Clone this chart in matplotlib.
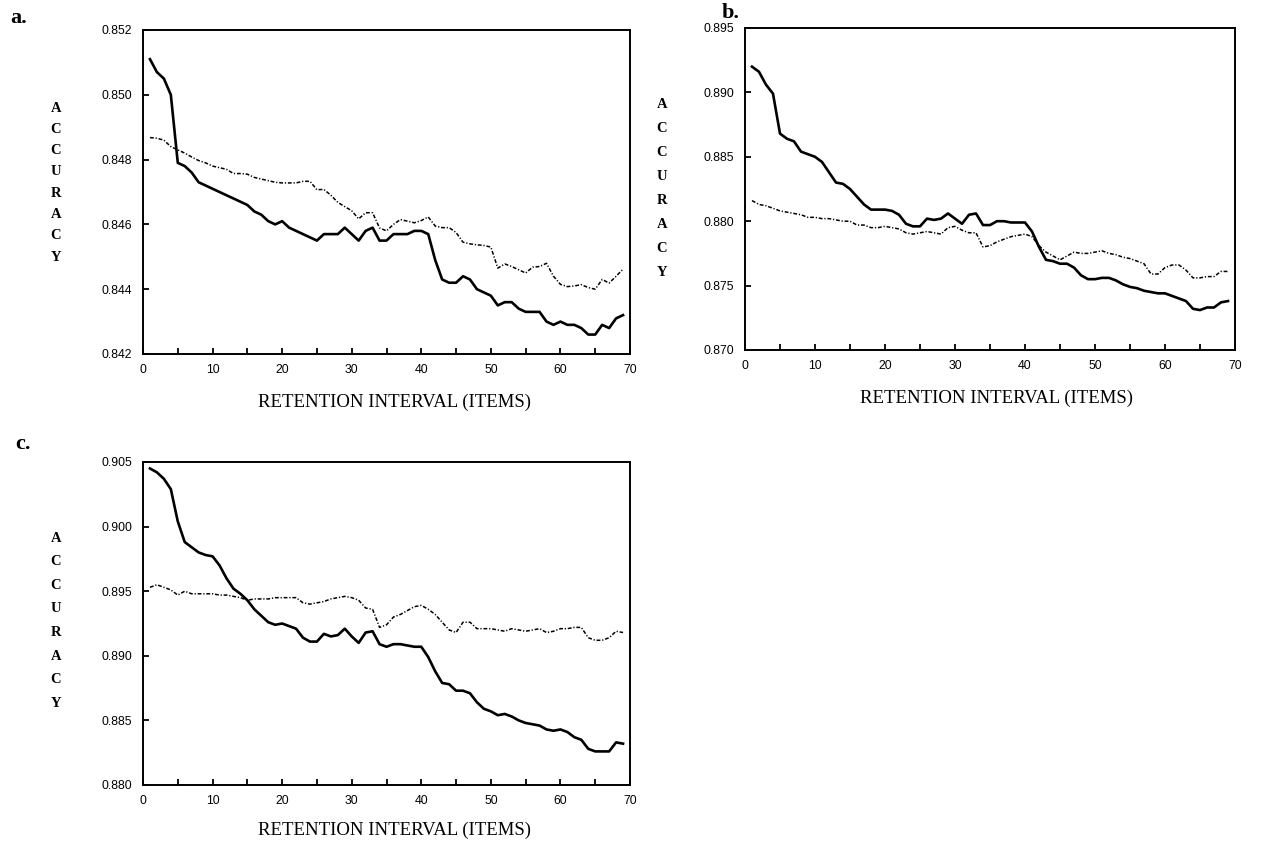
import matplotlib
matplotlib.use("Agg")
import matplotlib.pyplot as plt
from matplotlib.ticker import MultipleLocator, FixedLocator, FuncFormatter

# retention interval (items)
x = list(range(1, 70))

# panel a
a_solid = [0.8511, 0.8507, 0.8505, 0.8500, 0.8479, 0.8478, 0.8476, 0.8473, 0.8472, 0.8471,
           0.8470, 0.8469, 0.8468, 0.8467, 0.8466, 0.8464, 0.8463, 0.8461, 0.8460, 0.8461,
           0.8459, 0.8458, 0.8457, 0.8456, 0.8455, 0.8457, 0.8457, 0.8457, 0.8459, 0.8457,
           0.8455, 0.8458, 0.8459, 0.8455, 0.8455, 0.8457, 0.8457, 0.8457, 0.8458, 0.8458,
           0.8457, 0.8449, 0.8443, 0.8442, 0.8442, 0.8444, 0.8443, 0.8440, 0.8439, 0.8438,
           0.8435, 0.8436, 0.8436, 0.8434, 0.8433, 0.8433, 0.8433, 0.8430, 0.8429, 0.8430,
           0.8429, 0.8429, 0.8428, 0.8426, 0.8426, 0.8429, 0.8428, 0.8431, 0.8432]
a_dotted = [0.84868, 0.84866, 0.84860, 0.84840, 0.84830, 0.84820, 0.84808, 0.84797, 0.84790, 0.84780,
            0.84775, 0.84770, 0.84757, 0.84757, 0.84755, 0.84745, 0.84740, 0.84735, 0.84730, 0.84728,
            0.84728, 0.84728, 0.84733, 0.84733, 0.84707, 0.84708, 0.84690, 0.84668, 0.84655, 0.84642,
            0.84617, 0.84636, 0.84636, 0.84589, 0.84580, 0.84600, 0.84615, 0.84610, 0.84605, 0.84612,
            0.84623, 0.84595, 0.84590, 0.84590, 0.84575, 0.84545, 0.84540, 0.84537, 0.84535, 0.84530,
            0.84465, 0.84478, 0.84470, 0.84460, 0.84450, 0.84468, 0.84470, 0.84480, 0.84440, 0.84415,
            0.84408, 0.84410, 0.84414, 0.84405, 0.84400, 0.84430, 0.84419, 0.84440, 0.84462]

# panel b
b_solid = [0.8920, 0.8916, 0.8906, 0.8899, 0.8868, 0.8864, 0.8862, 0.8854, 0.8852, 0.8850,
           0.8846, 0.8838, 0.8830, 0.8829, 0.8825, 0.8819, 0.8813, 0.8809, 0.8809, 0.8809,
           0.8808, 0.8805, 0.8798, 0.8796, 0.8796, 0.8802, 0.8801, 0.8802, 0.8806, 0.8802,
           0.8798, 0.8805, 0.8806, 0.8797, 0.8797, 0.8800, 0.8800, 0.8799, 0.8799, 0.8799,
           0.8792, 0.8780, 0.8770, 0.8769, 0.8767, 0.8767, 0.8764, 0.8758, 0.8755, 0.8755,
           0.8756, 0.8756, 0.8754, 0.8751, 0.8749, 0.8748, 0.8746, 0.8745, 0.8744, 0.8744,
           0.8742, 0.8740, 0.8738, 0.8732, 0.8731, 0.8733, 0.8733, 0.8737, 0.8738]
b_dotted = [0.8816, 0.8813, 0.8812, 0.8810, 0.8808, 0.8807, 0.8806, 0.8805, 0.8803, 0.8803,
            0.8802, 0.8802, 0.8801, 0.8800, 0.8800, 0.8797, 0.8797, 0.8795, 0.8795, 0.8796,
            0.8795, 0.8794, 0.8791, 0.8790, 0.8791, 0.8792, 0.8791, 0.8790, 0.8795, 0.8796,
            0.8793, 0.8791, 0.8791, 0.8780, 0.8781, 0.8784, 0.8786, 0.8788, 0.8789, 0.8790,
            0.8788, 0.8781, 0.8776, 0.8773, 0.8770, 0.8773, 0.8776, 0.8775, 0.8775, 0.8776,
            0.8777, 0.8775, 0.8774, 0.8772, 0.8771, 0.8769, 0.8767, 0.8759, 0.8759, 0.8764,
            0.8766, 0.8766, 0.8762, 0.8756, 0.8756, 0.8757, 0.8757, 0.8761, 0.8761]

# panel c
c_solid = [0.9045, 0.9042, 0.9037, 0.9029, 0.9004, 0.8988, 0.8984, 0.8980, 0.8978, 0.8977,
           0.8970, 0.8960, 0.8952, 0.8948, 0.8943, 0.8936, 0.8931, 0.8926, 0.8924, 0.8925,
           0.8923, 0.8921, 0.8914, 0.8911, 0.8911, 0.8917, 0.8915, 0.8916, 0.8921, 0.8915,
           0.8910, 0.8918, 0.8919, 0.8909, 0.8907, 0.8909, 0.8909, 0.8908, 0.8907, 0.8907,
           0.8899, 0.8888, 0.8879, 0.8878, 0.8873, 0.8873, 0.8871, 0.8864, 0.8859, 0.8857,
           0.8854, 0.8855, 0.8853, 0.8850, 0.8848, 0.8847, 0.8846, 0.8843, 0.8842, 0.8843,
           0.8841, 0.8837, 0.8835, 0.8828, 0.8826, 0.8826, 0.8826, 0.8833, 0.8832]
c_dotted = [0.8953, 0.8955, 0.8953, 0.8951, 0.8947, 0.8950, 0.8948, 0.8948, 0.8948, 0.8948,
            0.8947, 0.8947, 0.8946, 0.8945, 0.8943, 0.8944, 0.8944, 0.8944, 0.8945, 0.8945,
            0.8945, 0.8945, 0.8941, 0.8940, 0.8941, 0.8942, 0.8944, 0.8945, 0.8946, 0.8945,
            0.8943, 0.8937, 0.8936, 0.8922, 0.8924, 0.8930, 0.8932, 0.8935, 0.8938, 0.8939,
            0.8936, 0.8932, 0.8926, 0.8920, 0.8918, 0.8926, 0.8926, 0.8921, 0.8921, 0.8921,
            0.8920, 0.8919, 0.8921, 0.8920, 0.8919, 0.8920, 0.8921, 0.8918, 0.8919, 0.8921,
            0.8921, 0.8922, 0.8922, 0.8914, 0.8912, 0.8912, 0.8914, 0.8919, 0.8918]

a_yticks = [0.842, 0.844, 0.846, 0.848, 0.850, 0.852]
b_yticks = [0.870, 0.875, 0.880, 0.885, 0.890, 0.895]
c_yticks = [0.880, 0.885, 0.890, 0.895, 0.900, 0.905]
xticks = [0, 10, 20, 30, 40, 50, 60, 70]

W, H = 1263, 844
fig = plt.figure(figsize=(W / 100, H / 100), dpi=100)

sans = "Liberation Sans"
serif = "Liberation Serif"


def px(l, t, r, b):
    # axes rectangle from pixel edges
    return [l / W, 1 - b / H, (r - l) / W, (b - t) / H]


def panel(rect, solid, dotted, yticks):
    ax = fig.add_axes(rect)
    ax.plot(x, solid, color="black", lw=1.9, solid_joinstyle="round")
    ax.plot(x, dotted, color="black", lw=1.1, linestyle=(0, (2.5, 1.2, 0.8, 1.2)))
    ax.set_xlim(0, 70)
    ax.set_ylim(yticks[0], yticks[-1])
    ax.xaxis.set_major_locator(FixedLocator(xticks))
    ax.xaxis.set_minor_locator(MultipleLocator(5))
    ax.yaxis.set_major_locator(FixedLocator(yticks))
    ax.yaxis.set_major_formatter(FuncFormatter(lambda v, p: f"{v:.3f}"))
    ax.tick_params(which="both", direction="in", length=4.5, width=1.3, top=False, right=False)
    ax.tick_params(axis="x", pad=7)
    ax.tick_params(axis="y", pad=8)
    for lab in ax.get_xticklabels() + ax.get_yticklabels():
        lab.set_fontfamily(sans)
        lab.set_fontsize(8.8)
    for s in ax.spines.values():
        s.set_linewidth(1.4)
    return ax


panel(px(143, 30, 630, 354), a_solid, a_dotted, a_yticks)
panel(px(745, 28, 1235, 350), b_solid, b_dotted, b_yticks)
panel(px(143, 462, 630, 785), c_solid, c_dotted, c_yticks)

# panel letters
for lbl, lx, ly in [("a.", 10, 18), ("b.", 722, 13), ("c.", 15, 444)]:
    fig.text(lx / W, 1 - ly / H, lbl, family=serif, fontsize=16, fontweight="bold",
             ha="left", va="center")

# stacked y labels
for cx, top, step in [(56, 108, 21.3), (662, 105, 24.0), (56, 538, 23.6)]:
    for i, ch in enumerate("ACCURACY"):
        fig.text(cx / W, 1 - (top + i * step) / H, ch, family=serif, fontsize=10.5,
                 fontweight="bold", ha="center", va="center")

# x labels
for cx, cy in [(395, 402), (996, 398), (395, 830)]:
    fig.text(cx / W, 1 - cy / H, "RETENTION INTERVAL (ITEMS)", family=serif,
             fontsize=13.5, ha="center", va="center")

fig.savefig("out.png", dpi=100)
